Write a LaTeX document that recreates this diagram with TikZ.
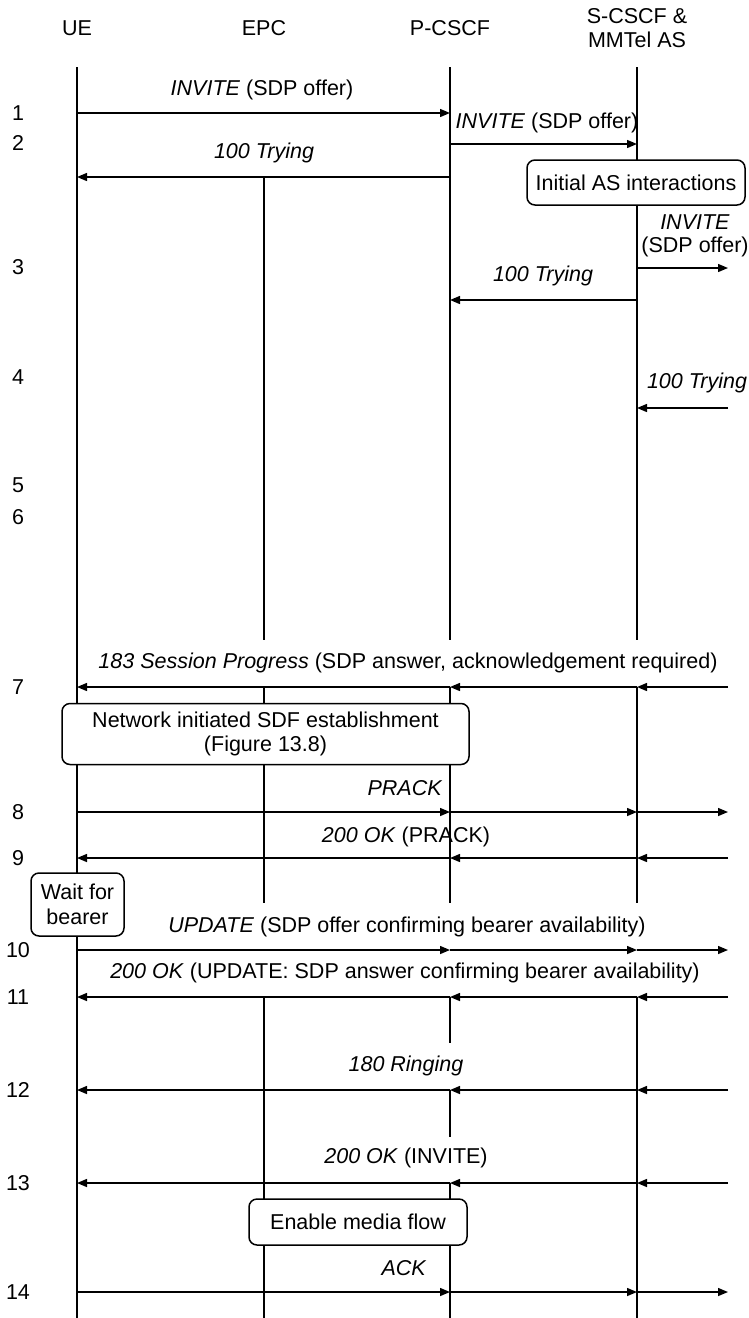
\documentclass[tikz,border=0pt]{standalone}
\usepackage{fontspec}
\setmainfont{Liberation Sans}
\usetikzlibrary{arrows.meta}

\begin{document}
\begin{tikzpicture}[x=1pt,y=-1pt,
  lbl/.style={font=\fontsize{21.5}{23.5}\selectfont, inner sep=0pt, align=center},
  life/.style={line width=2pt},
  msg/.style={line width=1.4pt, -{Triangle[length=10pt,width=8pt]}},
  procbox/.style={draw, line width=1.5pt, rounded corners=8pt, fill=white,
    inner sep=0pt, font=\fontsize{21.5}{24.5}\selectfont, align=center},
]
\useasboundingbox (0,0) rectangle (749,1318);

% entity headers
\node[lbl] (ue)    at (77,28)  {UE};
\node[lbl] (epc)   at (264,28) {EPC};
\node[lbl] (pcscf) at (450,28) {P-CSCF};
\node[lbl] (scscf) at (637,28) {S-CSCF \&\\MMTel AS};
\coordinate (rt) at (728,0);

% message rows and lifeline breaks
\foreach \n/\y in {top/67, m1/113, m2/144, m2b/177, m3/268, m3b/300, m4/408,
                   cuta/640, m7/687, m8/812, m9/858, cutb/903, m10/950,
                   m11/997, gapa/1043, m12/1090, gapb/1137, m13/1183,
                   m14/1292, bot/1318}
  \coordinate (\n) at (0,\y);

% lifelines
\draw[life] (ue |- top) -- (ue |- bot);
\draw[life] (epc |- m2b) -- (epc |- cuta);
\draw[life] (epc |- m7) -- (epc |- cutb);
\draw[life] (epc |- m11) -- (epc |- bot);
\draw[life] (pcscf |- top) -- (pcscf |- cuta);
\draw[life] (pcscf |- m7) -- (pcscf |- cutb);
\draw[life] (pcscf |- m11) -- (pcscf |- gapa);
\draw[life] (pcscf |- m12) -- (pcscf |- gapb);
\draw[life] (pcscf |- m13) -- (pcscf |- bot);
\draw[life] (scscf |- top) -- (scscf |- cuta);
\draw[life] (scscf |- m7) -- (scscf |- cutb);
\draw[life] (scscf |- m11) -- (scscf |- bot);

% step numbers
\foreach \t/\y in {1/113, 2/143, 3/267, 4/377, 5/485, 6/517, 7/687, 8/812,
                   9/858, 10/950, 11/997, 12/1090, 13/1183, 14/1292}
  \node[lbl] (num\t) at (18,\y) {\t};

% messages 1-4
\draw[msg] (ue |- m1) -- (pcscf |- m1);
\node[lbl] (l1) at (262,90) {\textit{INVITE} (SDP offer)};
\draw[msg] (pcscf |- m2) -- (scscf |- m2);
\node[lbl] (l2) at (547,123) {\textit{INVITE} (SDP offer)};
\draw[msg] (pcscf |- m2b) -- (ue |- m2b);
\node[lbl] (l2b) at (264,153) {\textit{100 Trying}};

\node[procbox, minimum width=218pt, minimum height=45pt] (as) at (636,182.5)
  {Initial AS interactions};

\draw[msg] (scscf |- m3) -- (rt |- m3);
\node[lbl] (l3) at (695,236) {\textit{INVITE}\\(SDP offer)};
\draw[msg] (scscf |- m3b) -- (pcscf |- m3b);
\node[lbl] (l3b) at (543,276) {\textit{100 Trying}};
\draw[msg] (rt |- m4) -- (scscf |- m4);
\node[lbl] (l4) at (697,383) {\textit{100 Trying}};

% 7: 183 Session Progress
\node[lbl] (l7) at (408,663)
  {\textit{183 Session Progress} (SDP answer, acknowledgement required)};
\draw[msg] (rt |- m7) -- (scscf |- m7);
\draw[msg] (scscf |- m7) -- (pcscf |- m7);
\draw[msg] (pcscf |- m7) -- (ue |- m7);

\node[procbox, minimum width=407pt, minimum height=61pt] (sdf) at (265.5,734)
  {Network initiated SDF establishment\\(Figure 13.8)};

% 8: PRACK
\node[lbl] (l8) at (405,788) {\textit{PRACK}};
\draw[msg] (ue |- m8) -- (pcscf |- m8);
\draw[msg] (pcscf |- m8) -- (scscf |- m8);
\draw[msg] (scscf |- m8) -- (rt |- m8);

% 9: 200 OK (PRACK)
\node[lbl] (l9) at (406,837) {\textit{200 OK} (PRACK)};
\draw[msg] (rt |- m9) -- (scscf |- m9);
\draw[msg] (scscf |- m9) -- (pcscf |- m9);
\draw[msg] (pcscf |- m9) -- (ue |- m9);

\node[procbox, minimum width=93pt, minimum height=63pt] (wait) at (77.5,904.5)
  {Wait for\\bearer};

% 10: UPDATE
\node[lbl] (l10) at (407,927)
  {\textit{UPDATE} (SDP offer confirming bearer availability)};
\draw[msg] (ue |- m10) -- (pcscf |- m10);
\draw[msg] (pcscf |- m10) -- (scscf |- m10);
\draw[msg] (scscf |- m10) -- (rt |- m10);

% 11: 200 OK (UPDATE)
\node[lbl] (l11) at (405,973)
  {\textit{200 OK} (UPDATE: SDP answer confirming bearer availability)};
\draw[msg] (rt |- m11) -- (scscf |- m11);
\draw[msg] (scscf |- m11) -- (pcscf |- m11);
\draw[msg] (pcscf |- m11) -- (ue |- m11);

% 12: 180 Ringing
\node[lbl] (l12) at (406,1066) {\textit{180 Ringing}};
\draw[msg] (rt |- m12) -- (scscf |- m12);
\draw[msg] (scscf |- m12) -- (pcscf |- m12);
\draw[msg] (pcscf |- m12) -- (ue |- m12);

% 13: 200 OK (INVITE)
\node[lbl] (l13) at (406,1158) {\textit{200 OK} (INVITE)};
\draw[msg] (rt |- m13) -- (scscf |- m13);
\draw[msg] (scscf |- m13) -- (pcscf |- m13);
\draw[msg] (pcscf |- m13) -- (ue |- m13);

\node[procbox, minimum width=218pt, minimum height=46pt] (media) at (358,1222)
  {Enable media flow};

% 14: ACK
\node[lbl] (l14) at (404,1268) {\textit{ACK}};
\draw[msg] (ue |- m14) -- (pcscf |- m14);
\draw[msg] (pcscf |- m14) -- (scscf |- m14);
\draw[msg] (scscf |- m14) -- (rt |- m14);
\end{tikzpicture}
\end{document}
